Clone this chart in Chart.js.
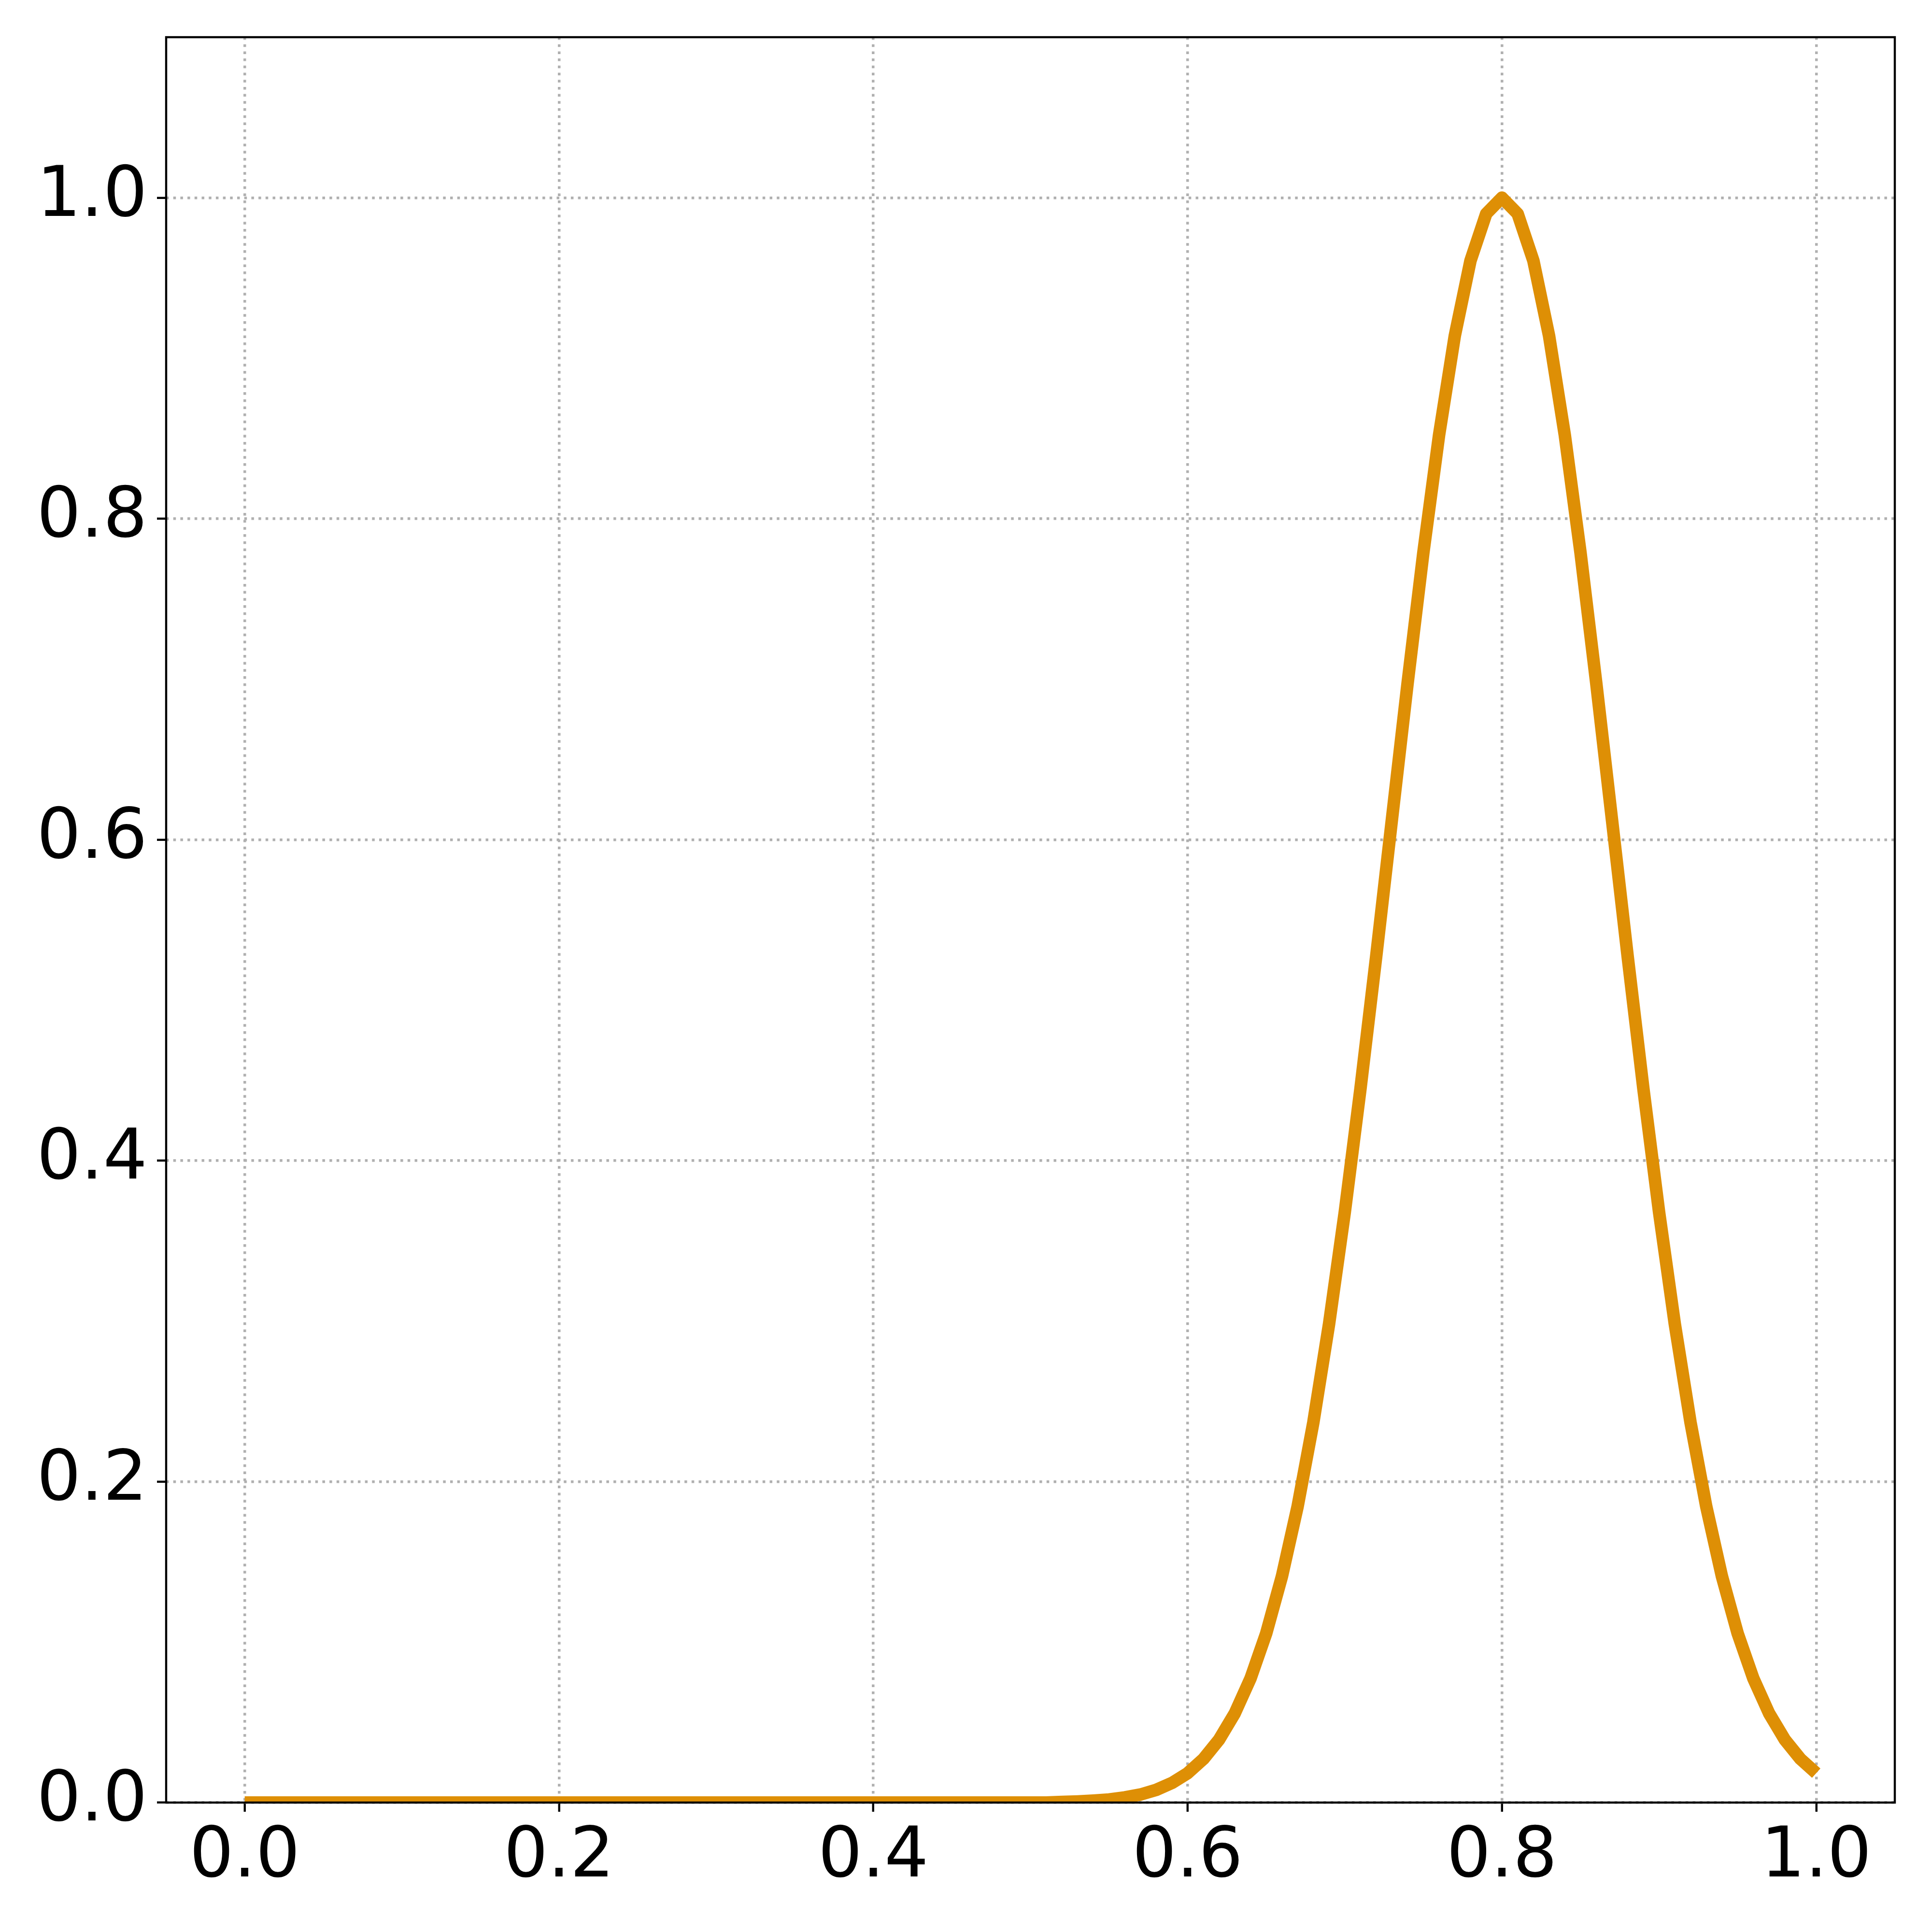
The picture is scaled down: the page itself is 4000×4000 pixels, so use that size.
<!DOCTYPE html>
<html>
<head>
<meta charset="utf-8">
<script src="https://cdn.jsdelivr.net/npm/chart.js@4/dist/chart.umd.min.js"></script>
<style>
  html, body { margin: 0; padding: 0; background: #fff; }
  canvas { display: block; }
</style>
</head>
<body>
<canvas id="chart" width="4000" height="4000"></canvas>
<script>
const xs = [
  0.00, 0.01, 0.02, 0.03, 0.04, 0.05, 0.06, 0.07, 0.08, 0.09,
  0.10, 0.11, 0.12, 0.13, 0.14, 0.15, 0.16, 0.17, 0.18, 0.19,
  0.20, 0.21, 0.22, 0.23, 0.24, 0.25, 0.26, 0.27, 0.28, 0.29,
  0.30, 0.31, 0.32, 0.33, 0.34, 0.35, 0.36, 0.37, 0.38, 0.39,
  0.40, 0.41, 0.42, 0.43, 0.44, 0.45, 0.46, 0.47, 0.48, 0.49,
  0.50, 0.51, 0.52, 0.53, 0.54, 0.55, 0.56, 0.57, 0.58, 0.59,
  0.60, 0.61, 0.62, 0.63, 0.64, 0.65, 0.66, 0.67, 0.68, 0.69,
  0.70, 0.71, 0.72, 0.73, 0.74, 0.75, 0.76, 0.77, 0.78, 0.79,
  0.80, 0.81, 0.82, 0.83, 0.84, 0.85, 0.86, 0.87, 0.88, 0.89,
  0.90, 0.91, 0.92, 0.93, 0.94, 0.95, 0.96, 0.97, 0.98, 0.99,
  1.00
];

const ys = [
  0, 0, 0, 0, 0, 0, 0, 0, 0, 0,
  0, 0, 0, 0, 0, 0, 0, 0, 0, 0,
  0, 0, 0, 0, 0, 0, 0, 0, 0, 0,
  0, 0, 0, 0, 0, 0, 0, 0, 0, 0,
  0, 0, 0, 0, 0, 0, 0, 0, 0, 0,
  0, 0, 0.0004, 0.0007, 0.0012, 0.0019, 0.0032, 0.0050, 0.0079, 0.0122,
  0.0183, 0.0271, 0.0392, 0.0556, 0.0773, 0.1054, 0.1409, 0.1845, 0.2369, 0.2982,
  0.3679, 0.4449, 0.5273, 0.6126, 0.6977, 0.7788, 0.8521, 0.9139, 0.9608, 0.9900,
  1.0000, 0.9900, 0.9608, 0.9139, 0.8521, 0.7788, 0.6977, 0.6126, 0.5273, 0.4449,
  0.3679, 0.2982, 0.2369, 0.1845, 0.1409, 0.1054, 0.0773, 0.0556, 0.0392, 0.0271,
  0.0183
];

const xTicks = [0, 0.2, 0.4, 0.6, 0.8, 1.0];
const yTicks = [0, 0.2, 0.4, 0.6, 0.8, 1.0];

// box around the plot area, like matplotlib spines
const frame = {
  id: "frame",
  afterDraw(chart) {
    const { ctx, chartArea } = chart;
    ctx.save();
    ctx.strokeStyle = "#000";
    ctx.lineWidth = 4.4;
    ctx.strokeRect(chartArea.left, chartArea.top,
      chartArea.right - chartArea.left, chartArea.bottom - chartArea.top);
    ctx.restore();
  },
};

const tickFont = { family: "DejaVu Sans", size: 144 };

const gridOpts = {
  color: "#b0b0b0",
  lineWidth: 5.5,
  borderDash: [5.5, 9.2],
  tickLength: 19,
  tickWidth: 4.4,
  tickColor: "#000",
};

function noOverflow(scale) {
  scale.paddingTop = 0;
  scale.paddingBottom = 0;
  scale.paddingLeft = 0;
  scale.paddingRight = 0;
}

const ctx = document.getElementById("chart").getContext("2d");
new Chart(ctx, {
  type: "line",
  data: {
    datasets: [
      {
        data: xs.map((x, i) => ({ x: x, y: ys[i] })),
        borderColor: "#de8f05",
        borderWidth: 26,
        borderCapStyle: "butt",
        borderJoinStyle: "round",
        pointRadius: 0,
        tension: 0,
        fill: false,
        clip: 0,
      },
    ],
  },
  options: {
    responsive: false,
    animation: false,
    devicePixelRatio: 1,
    layout: { padding: { top: 77, right: 77, left: 0, bottom: 0 } },
    plugins: {
      legend: { display: false },
      tooltip: { enabled: false },
    },
    scales: {
      x: {
        type: "linear",
        min: -0.05,
        max: 1.05,
        afterBuildTicks: (scale) => {
          scale.ticks = xTicks.map((v) => ({ value: v }));
        },
        afterFit: (scale) => {
          scale.height = 268;
          noOverflow(scale);
        },
        grid: gridOpts,
        border: { display: false, dash: [5.5, 9.2] },
        ticks: {
          font: tickFont,
          color: "#000",
          padding: 10,
          maxRotation: 0,
          autoSkip: false,
          callback: (v) => Number(v).toFixed(1),
        },
      },
      y: {
        type: "linear",
        min: 0,
        max: 1.1,
        afterBuildTicks: (scale) => {
          scale.ticks = yTicks.map((v) => ({ value: v }));
        },
        afterFit: (scale) => {
          scale.width = 344;
          noOverflow(scale);
        },
        grid: gridOpts,
        border: { display: false, dash: [5.5, 9.2] },
        ticks: {
          font: tickFont,
          color: "#000",
          padding: 20,
          autoSkip: false,
          callback: (v) => Number(v).toFixed(1),
        },
      },
    },
  },
  plugins: [frame],
});
</script>
</body>
</html>
